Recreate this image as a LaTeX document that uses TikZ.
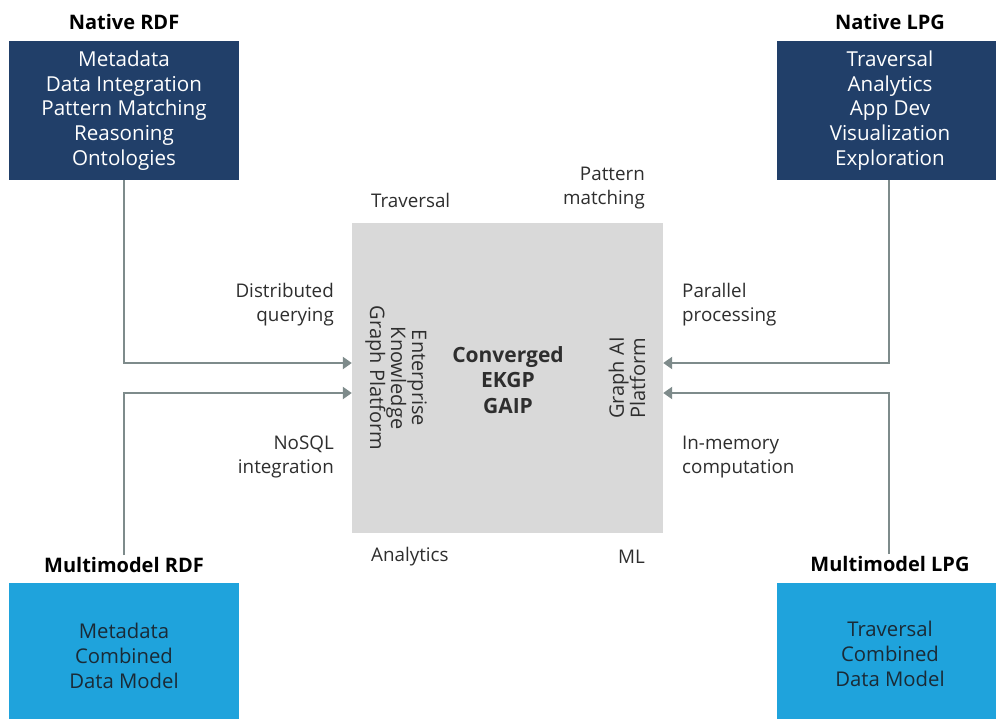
\documentclass[tikz,border=0pt]{standalone}
\usepackage{fontspec}
\setmainfont{Open Sans}
\usetikzlibrary{arrows.meta}
\definecolor{navy}{HTML}{213F69}
\definecolor{sky}{HTML}{1FA3DC}
\definecolor{panel}{HTML}{D9D9D9}
\definecolor{arrowgray}{HTML}{7E8B8B}
\definecolor{labelgray}{HTML}{2E2E2E}
\definecolor{skytext}{HTML}{1A2A36}
\tikzset{
  navybox/.style={fill=navy, draw=none, text=white, align=center, inner sep=0pt,
    font=\fontsize{20.6}{24.8}\selectfont},
  skybox/.style={fill=sky, draw=none, text=skytext, align=center, inner sep=0pt,
    font=\fontsize{20.3}{25}\selectfont},
  title/.style={font=\fontsize{20}{22}\selectfont\bfseries, text=black, inner sep=1pt},
  lbl/.style={font=\fontsize{18.8}{24.5}\selectfont, text=labelgray, inner sep=0pt},
  conn/.style={draw=arrowgray, line width=2.2pt, -{Triangle[length=9pt,width=12pt]}},
}
\begin{document}
\begin{tikzpicture}[x=1pt,y=-1pt]
\clip (0,0) rectangle (996,718);
\fill[white] (0,0) rectangle (996,718);
% center panel
\node[fill=panel, draw=none, minimum width=311pt, minimum height=310pt, inner sep=0pt] (ctr) at (507.5,378) {};
\node[font=\fontsize{21}{25.5}\selectfont\bfseries, text=labelgray, align=center] (conv) at (508,380) {Converged\\EKGP\\GAIP};
\node[rotate=-90, font=\fontsize{20}{21}\selectfont, text=labelgray, align=center] (ekgp) at (396,378) {Enterprise\\Knowledge\\Graph Platform};
\node[rotate=90, font=\fontsize{20}{19.5}\selectfont, text=labelgray, align=center] (gaip) at (627,378) {Graph AI\\Platform};
% corner boxes
\node[navybox, minimum width=230pt, minimum height=139pt] (nrdf) at (124,110.5) {Metadata\\Data Integration\\Pattern Matching\\Reasoning\\Ontologies};
\node[navybox, minimum width=226pt, minimum height=139pt] (nlpg) at (890,110.5) {Traversal\\Analytics\\App Dev\\Visualization\\Exploration};
\node[skybox, minimum width=230pt, minimum height=146pt] (mrdf) at (124,656) {Metadata\\Combined\\Data Model};
\node[skybox, minimum width=226pt, minimum height=142pt] (mlpg) at (890,654) {Traversal\\Combined\\Data Model};
% titles
\node[title] (nrdft) at (124,22) {Native RDF};
\node[title] (nlpgt) at (890,22) {Native LPG};
\node[title] (mrdft) at (124,565) {Multimodel RDF};
\node[title] (mlpgt) at (890,564) {Multimodel LPG};
% labels
\node[lbl, anchor=west] (trav) at (371,200) {Traversal};
\node[lbl, anchor=east, align=right] (patt) at (645,188) {Pattern\\matching};
\node[lbl, anchor=east, align=right] (dist) at (334,304.5) {Distributed\\querying};
\node[lbl, anchor=west, align=left] (para) at (682,304.5) {Parallel\\processing};
\node[lbl, anchor=east, align=right] (nosql) at (334,457) {NoSQL\\integration};
\node[lbl, anchor=west, align=left] (inmem) at (682,457) {In-memory\\computation};
\node[lbl, anchor=west] (anal) at (371,557) {Analytics};
\node[lbl, anchor=east] (ml) at (645,557) {ML};
% connectors
\draw[conn] (nrdf.south) |- ([yshift=15pt]ctr.west);
\draw[conn] ([yshift=1pt]mrdft.north) |- ([yshift=-15pt]ctr.west);
\draw[conn] ([xshift=-1pt]nlpg.south) |- ([yshift=15pt]ctr.east);
\draw[conn] ([xshift=-1pt,yshift=1pt]mlpgt.north) |- ([yshift=-15pt]ctr.east);
\end{tikzpicture}
\end{document}
